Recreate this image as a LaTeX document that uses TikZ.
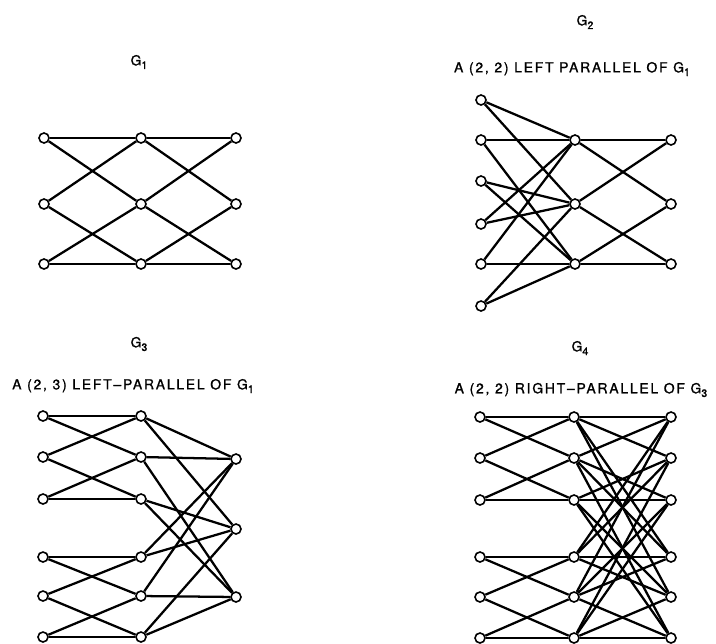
\documentclass[tikz,border=0pt]{standalone}
\usepackage{fontspec}
\setmainfont{TeX Gyre Heros}
\newfontfamily\lblfont[LetterSpace=13,FakeBold=1.2]{TeX Gyre Heros}
\newcommand{\lowidx}[1]{\raisebox{-0.5ex}{\fontsize{8}{9}\selectfont #1}}
\begin{document}
\begin{tikzpicture}[x=0.75pt,y=-0.75pt,
  vtx/.style={circle,draw,fill=white,line width=1.2pt,inner sep=0pt,minimum size=7.5pt},
  edge/.style={line width=1.7pt},
  lbl/.style={font=\lblfont\fontsize{10.4}{12}\selectfont,inner sep=0pt}]
\useasboundingbox (0,0) rectangle (716,643);
% labels
\node[lbl] (t1) at (139,62) {G\lowidx{1}};
\node[lbl] (t2) at (585,22) {G\lowidx{2}};
\node[lbl] (s2) at (572,69) {A (2, 2) LEFT PARALLEL OF G\lowidx{1}};
\node[lbl] (t3) at (139,344) {G\lowidx{3}};
\node[lbl] (s3) at (133,386) {A (2, 3) LEFT\textendash PARALLEL OF G\lowidx{1}};
\node[lbl] (t4) at (580,348) {G\lowidx{4}};
\node[lbl] (s4) at (581,390) {A (2, 2) RIGHT\textendash PARALLEL OF G\lowidx{3}};
% G1 nodes
\foreach \i/\y in {1/138,2/204,3/264}{
  \node[vtx] (aL\i) at (44,\y) {};
  \node[vtx] (aM\i) at (141,\y) {};
  \node[vtx] (aR\i) at (236,\y) {};
}
% G2 nodes
\foreach \i/\y in {1/100,2/140,3/181,4/224,5/264,6/306}{
  \node[vtx] (bL\i) at (481,\y) {};
}
\foreach \i/\y in {1/140,2/204,3/264}{
  \node[vtx] (bM\i) at (575,\y) {};
  \node[vtx] (bR\i) at (671,\y) {};
}
% G3 nodes
\foreach \i/\y in {1/416,2/457,3/499,4/557,5/596,6/637}{
  \node[vtx] (cL\i) at (43,\y) {};
  \node[vtx] (cM\i) at (141,\y) {};
}
\foreach \i/\y in {1/459,2/529,3/597}{
  \node[vtx] (cR\i) at (236,\y) {};
}
% G4 nodes
\foreach \i/\y in {1/417,2/458,3/500,4/557,5/597,6/638}{
  \node[vtx] (dL\i) at (480,\y) {};
  \node[vtx] (dM\i) at (574,\y) {};
  \node[vtx] (dR\i) at (671,\y) {};
}
% G1 edges (and G2 right half)
\foreach \a/\b in {1/1,1/2,2/1,2/3,3/2,3/3}{
  \draw[edge] (aL\a) -- (aM\b);
  \draw[edge] (aM\a) -- (aR\b);
  \draw[edge] (bM\a) -- (bR\b);
}
% G2 left edges, G3 right edges
\foreach \a/\b in {1/1,1/2,2/1,2/3,3/2,3/3,4/1,4/2,5/1,5/3,6/2,6/3}{
  \draw[edge] (bL\a) -- (bM\b);
  \draw[edge] (cM\a) -- (cR\b);
}
% G3 / G4 left blocks
\foreach \a/\b in {1/1,1/2,2/1,2/3,3/2,3/3,4/4,4/5,5/4,5/6,6/5,6/6}{
  \draw[edge] (cL\a) -- (cM\b);
  \draw[edge] (dL\a) -- (dM\b);
}
% G4 right part
\foreach \a/\b in {1/1,1/2,1/4,1/5,2/1,2/3,2/4,2/6,3/2,3/3,3/5,3/6,
                   4/1,4/2,4/4,4/5,5/1,5/3,5/4,5/6,6/2,6/3,6/5,6/6}{
  \draw[edge] (dM\a) -- (dR\b);
}
\end{tikzpicture}
\end{document}
